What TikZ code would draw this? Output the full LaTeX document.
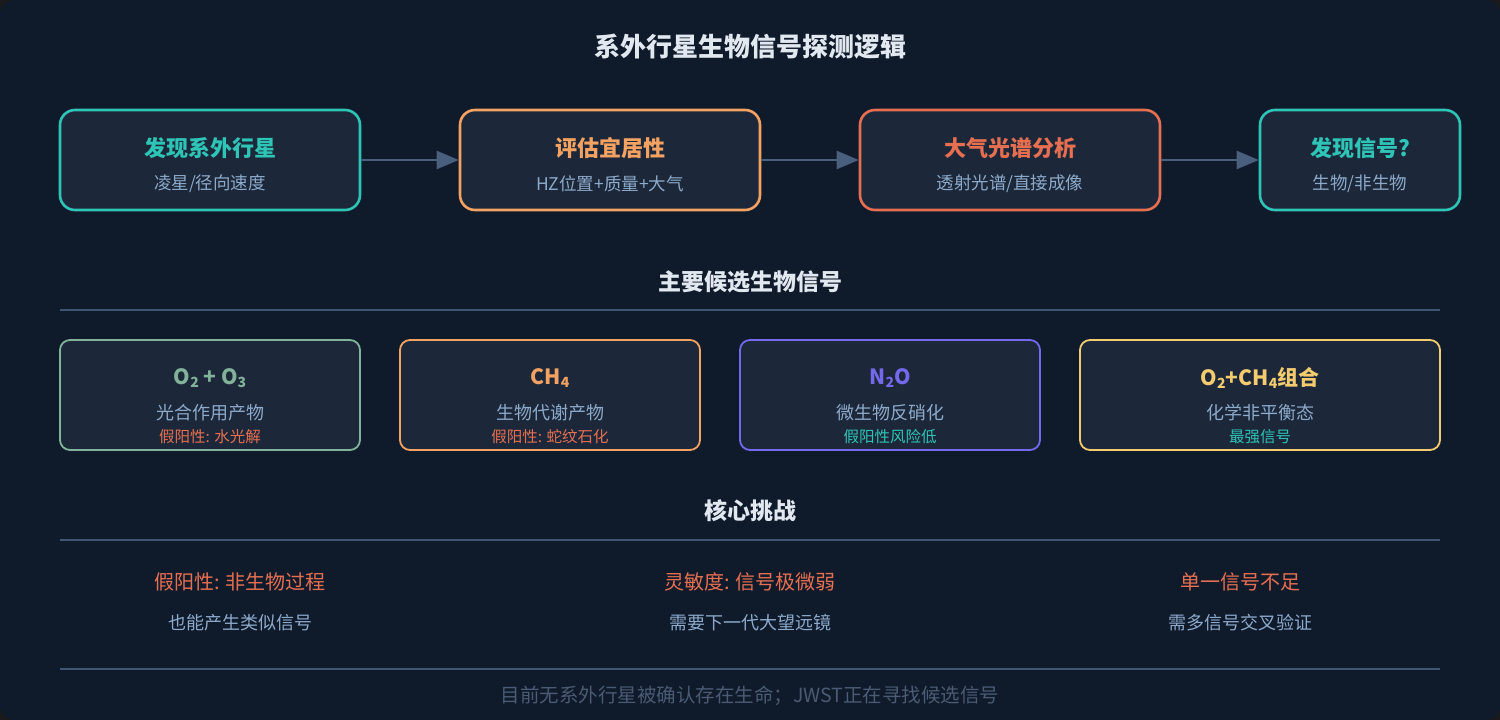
\documentclass[tikz,border=0pt]{standalone}
\usepackage{fontspec}
\setmainfont{Noto Sans CJK SC}
\usetikzlibrary{arrows.meta}
\definecolor{bgout}{HTML}{1A1A1A}
\definecolor{bg}{HTML}{0F1A2B}
\definecolor{boxfill}{HTML}{1C2839}
\definecolor{teal}{HTML}{2EC4B6}
\definecolor{orng}{HTML}{F4A261}
\definecolor{redo}{HTML}{E76F51}
\definecolor{sage}{HTML}{81B29A}
\definecolor{purp}{HTML}{7468EC}
\definecolor{yel}{HTML}{F2CC6F}
\definecolor{subt}{HTML}{8DAACB}
\definecolor{head}{HTML}{E2E8F0}
\definecolor{rule}{HTML}{3E5573}
\definecolor{arr}{HTML}{4A5E7E}
\definecolor{foot}{HTML}{4A5B73}
\newcommand{\sbs}[1]{\raisebox{-2.5pt}{\fontsize{14}{14}\selectfont #1}}
\tikzset{
  flowbox/.style={draw, line width=2.6pt, fill=boxfill, rounded corners=15pt, minimum height=100pt, inner sep=0pt},
  candbox/.style={draw, line width=1.8pt, fill=boxfill, rounded corners=10pt, minimum height=110pt, inner sep=0pt},
  ftitle/.style={font=\fontsize{22}{26}\selectfont\bfseries, anchor=center},
  fsub/.style={font=\fontsize{17.5}{20}\selectfont, text=subt, anchor=center},
  ctitle/.style={font=\fontsize{21}{26}\selectfont\bfseries, anchor=center},
  csub/.style={font=\fontsize{18}{20}\selectfont, text=subt, anchor=center},
  fnote/.style={font=\fontsize{15.5}{17}\selectfont, anchor=center},
  sect/.style={font=\fontsize{23}{26}\selectfont\bfseries, text=head},
  flow/.style={draw=arr, line width=2.5pt, -{Triangle[length=22pt,width=18pt]}},
  hrule/.style={draw=rule, line width=1.6pt},
  chred/.style={font=\fontsize{20}{22}\selectfont, text=redo},
  chsub/.style={font=\fontsize{18}{20}\selectfont, text=subt},
}
\begin{document}
\begin{tikzpicture}[x=1pt,y=-1pt]
\useasboundingbox (0,0) rectangle (1500,720);
\fill[bgout] (0,0) rectangle (1500,720);
\fill[bg, rounded corners=14pt] (0,0) rectangle (1500,720);

\node[font=\fontsize{26}{30}\selectfont\bfseries, text=head] (title) at (750,47) {系外行星生物信号探测逻辑};

% flow boxes
\node[flowbox, draw=teal, minimum width=300pt] (b1) at (210,160) {};
\node[flowbox, draw=orng, minimum width=300pt] (b2) at (610,160) {};
\node[flowbox, draw=redo, minimum width=300pt] (b3) at (1010,160) {};
\node[flowbox, draw=teal, minimum width=200pt] (b4) at (1360,160) {};

\node[ftitle, text=teal] (b1t) at ([yshift=12pt]b1.center) {发现系外行星};
\node[fsub] (b1s) at ([yshift=-24pt]b1.center) {凌星/径向速度};
\node[ftitle, text=orng] (b2t) at ([yshift=12pt]b2.center) {评估宜居性};
\node[fsub] (b2s) at ([yshift=-24pt]b2.center) {HZ位置+质量+大气};
\node[ftitle, text=redo] (b3t) at ([yshift=12pt]b3.center) {大气光谱分析};
\node[fsub] (b3s) at ([yshift=-24pt]b3.center) {透射光谱/直接成像};
\node[ftitle, text=teal] (b4t) at ([yshift=12pt]b4.center) {发现信号?};
\node[fsub] (b4s) at ([yshift=-24pt]b4.center) {生物/非生物};

\draw[flow] (b1.east) -- (b2.west);
\draw[flow] (b2.east) -- (b3.west);
\draw[flow] (b3.east) -- (b4.west);

% section 2
\node[sect] (s2) at (750,282) {主要候选生物信号};
\coordinate (r1a) at (60,310);
\coordinate (r1b) at (1440,310);
\draw[hrule] (r1a) -- (r1b);

\node[candbox, draw=sage, minimum width=300pt] (c1) at (210,395) {};
\node[candbox, draw=orng, minimum width=300pt] (c2) at (550,395) {};
\node[candbox, draw=purp, minimum width=300pt] (c3) at (890,395) {};
\node[candbox, draw=yel, minimum width=360pt] (c4) at (1260,395) {};

\node[ctitle, text=sage] (c1t) at ([yshift=17pt]c1.center) {O\sbs{2} + O\sbs{3}};
\node[csub] (c1s) at ([yshift=-18pt]c1.center) {光合作用产物};
\node[fnote, text=redo] (c1n) at ([yshift=-42pt]c1.center) {假阳性: 水光解};

\node[ctitle, text=orng] (c2t) at ([yshift=17pt]c2.center) {CH\sbs{4}};
\node[csub] (c2s) at ([yshift=-18pt]c2.center) {生物代谢产物};
\node[fnote, text=redo] (c2n) at ([yshift=-42pt]c2.center) {假阳性: 蛇纹石化};

\node[ctitle, text=purp] (c3t) at ([yshift=17pt]c3.center) {N\sbs{2}O};
\node[csub] (c3s) at ([yshift=-18pt]c3.center) {微生物反硝化};
\node[fnote, text=teal] (c3n) at ([yshift=-42pt]c3.center) {假阳性风险低};

\node[ctitle, text=yel] (c4t) at ([yshift=17pt]c4.center) {O\sbs{2}+CH\sbs{4}组合};
\node[csub] (c4s) at ([yshift=-18pt]c4.center) {化学非平衡态};
\node[fnote, text=teal] (c4n) at ([yshift=-42pt]c4.center) {最强信号};

% section 3
\node[sect] (s3) at (750,511) {核心挑战};
\coordinate (r2a) at (60,540);
\coordinate (r2b) at (1440,540);
\draw[hrule] (r2a) -- (r2b);

\node[chred] (h1) at (240,582) {假阳性: 非生物过程};
\node[chsub] (h1s) at (240,623) {也能产生类似信号};
\node[chred] (h2) at (750,582) {灵敏度: 信号极微弱};
\node[chsub] (h2s) at (750,623) {需要下一代大望远镜};
\node[chred] (h3) at (1240,582) {单一信号不足};
\node[chsub] (h3s) at (1240,623) {需多信号交叉验证};

\coordinate (r3a) at (60,669);
\coordinate (r3b) at (1440,669);
\draw[hrule] (r3a) -- (r3b);

\node[font=\fontsize{19.5}{22}\selectfont, text=foot] (ft) at (750,696) {目前无系外行星被确认存在生命；JWST正在寻找候选信号};
\end{tikzpicture}
\end{document}
